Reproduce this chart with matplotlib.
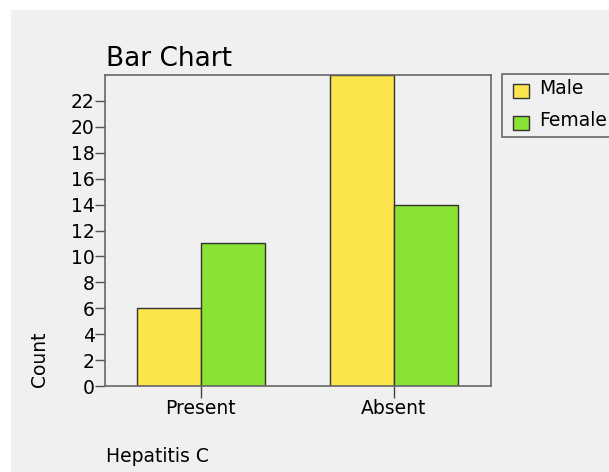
import matplotlib
matplotlib.use("Agg")
import matplotlib.pyplot as plt
from matplotlib.patches import Rectangle, Patch
from matplotlib.legend_handler import HandlerPatch
import numpy as np

categories = ["Present", "Absent"]
male = [6, 24]
female = [11, 14]
series_names = ["Male", "Female"]
yticks = list(range(0, 23, 2))

W, H = 609, 472
fig = plt.figure(figsize=(W/100, H/100), dpi=100, facecolor="white")
bg = "#f0f0f0"
fig.patches.append(Rectangle((11/W, 0), 1, 1 - 10/H, transform=fig.transFigure,
                             facecolor=bg, edgecolor="none", zorder=-10))

FS = 13.5
male_c, female_c, edge_c = "#fce54c", "#8ae234", "#333333"
ax = fig.add_axes([105/W, 1 - 386/H, (491-105)/W, (386-75)/H])
ax.set_facecolor(bg)
x = np.arange(len(categories))
w = 1/3
ax.bar(x - w/2, male, w, color=male_c, edgecolor=edge_c, linewidth=1, label=series_names[0])
ax.bar(x + w/2, female, w, color=female_c, edgecolor=edge_c, linewidth=1, label=series_names[1])
ax.set_xlim(-0.497, 1.503)
ax.set_ylim(0, 24)
ax.set_yticks(yticks)
ax.set_xticks(x)
ax.set_xticklabels(categories)
for s in ax.spines.values():
    s.set_color("#666666")
    s.set_linewidth(1.2)
ax.tick_params(axis="y", direction="out", length=7, width=1, color="#555555", labelsize=FS, pad=0.5)
ax.tick_params(axis="x", direction="out", length=8.5, width=1, color="#444444", labelsize=FS, pad=1)

fig.text(106/W, 1 - 65.5/H, "Bar Chart", fontsize=19, ha="left", va="baseline")
fig.text(40/W, 1 - 359.5/H, "Count", fontsize=FS, rotation=90, ha="center", va="center")
fig.text(106/W, 1 - 462/H, "Hepatitis C", fontsize=FS, ha="left", va="baseline")

# legend frame
fig.patches.append(Rectangle((502/W, 1 - 137/H), 120/W, 63/H, transform=fig.transFigure,
                             facecolor=bg, edgecolor="#666666", linewidth=1.2, zorder=5))

def shifted_patch(legend, orig_handle, xdescent, ydescent, width, height, fontsize):
    return Rectangle((-xdescent, -ydescent - 3.0), width, height)

handles = [Patch(facecolor=male_c, edgecolor=edge_c), Patch(facecolor=female_c, edgecolor=edge_c)]
leg = fig.legend(handles, series_names, loc="upper left", bbox_to_anchor=(513/W, 1 - 78.5/H),
                 fontsize=FS, frameon=False, handlelength=0.85, handleheight=0.8,
                 handletextpad=0.55, borderpad=0, labelspacing=0.7, borderaxespad=0,
                 handler_map={Patch: HandlerPatch(patch_func=shifted_patch)})
leg.set_zorder(6)

fig.savefig("out.png", dpi=100, facecolor="white")
